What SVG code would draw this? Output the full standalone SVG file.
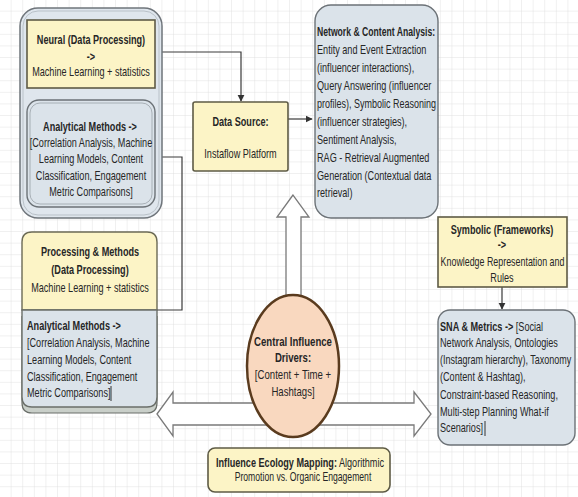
<svg xmlns="http://www.w3.org/2000/svg" width="578" height="497" viewBox="0 0 578 497">
<defs>
<pattern id="grid" width="11.6" height="11.6" patternUnits="userSpaceOnUse">
<path d="M11.6 0 V11.6 M0 11.6 H11.6" fill="none" stroke="#dcdcdc" stroke-width="0.8"/>
</pattern>
<marker id="ah" viewBox="0 0 10 10" refX="9" refY="5" markerWidth="6" markerHeight="6" orient="auto">
<path d="M0 0 L10 5 L0 10 z" fill="#333"/>
</marker>
<style>
.t{font-family:"Liberation Sans",Arial,sans-serif;font-size:12px;fill:#262626}
.b{font-weight:bold}
.c{text-anchor:middle}
.yel{fill:#fcf4c6;stroke:#5e5b45;stroke-width:1.6}
.blu{fill:#dbe3ea;stroke:#6c7277;stroke-width:1.4}
.ln{fill:none;stroke:#3a3a3a;stroke-width:1.2}
.blk{fill:#ffffff;stroke:#7a7a7a;stroke-width:1.3}
</style>
</defs>
<rect width="578" height="497" fill="#ffffff"/>
<rect width="578" height="497" fill="url(#grid)"/>

<g id="connectors">
<path class="ln" d="M155 52 H241 V101" marker-end="url(#ah)"/>
<path class="ln" d="M91 88 V99" marker-end="url(#ah)"/>
<path class="ln" d="M288 119 H312" marker-end="url(#ah)"/>
<path class="ln" d="M157 310 H182 V157 H156" marker-end="url(#ah)"/>
<path class="ln" d="M502 287 V309" marker-end="url(#ah)"/>
<polygon class="blk" points="293,195 277,217 286,217 286,305 301,305 301,217 309,217"/>
<polygon class="blk" points="157,414 173,392 173,403 414,403 414,392 431,414 414,436 414,425 173,425 173,436"/>
</g>

<g id="left-container">
<rect x="20" y="8" width="142" height="210" rx="18" fill="#dfe6ed" stroke="#6f757b" stroke-width="1.5"/>
<rect x="23" y="11" width="136" height="204" rx="15" fill="none" stroke="#b9c1c8" stroke-width="1"/>
</g>

<g id="neural">
<rect class="yel" x="27" y="20" width="128" height="68"/>
<text class="t b c" transform="translate(91 44) scale(.76 1)">Neural (Data Processing)</text>
<text class="t b c" transform="translate(91 61) scale(.76 1)">-&gt;</text>
<text class="t c" transform="translate(91 76) scale(.76 1)">Machine Learning + statistics</text>
</g>

<g id="analytical-top">
<rect class="blu" x="27" y="100" width="128" height="107" rx="12"/>
<rect x="30" y="103" width="122" height="101" rx="10" fill="none" stroke="#9aa2a8" stroke-width="0.8"/>
<text class="t b c" transform="translate(90 131) scale(.76 1)">Analytical Methods -&gt;</text>
<text class="t c" transform="translate(91 147) scale(.76 1)">[Correlation Analysis, Machine</text>
<text class="t c" transform="translate(91 163) scale(.76 1)">Learning Models, Content</text>
<text class="t c" transform="translate(91 180) scale(.76 1)">Classification, Engagement</text>
<text class="t c" transform="translate(91 196) scale(.76 1)">Metric Comparisons]</text>
</g>

<g id="data-source">
<rect class="yel" x="193" y="102" width="95" height="69" rx="2"/>
<text class="t b c" transform="translate(240.5 126) scale(.76 1)">Data Source:</text>
<text class="t c" transform="translate(240.5 158) scale(.76 1)">Instaflow Platform</text>
</g>

<g id="network">
<rect class="blu" x="315" y="5" width="123" height="213" rx="16"/>
<text class="t b" transform="translate(317 36) scale(.72 1)">Network &amp; Content Analysis:</text>
<text class="t" transform="translate(317 54) scale(.76 1)">Entity and Event Extraction</text>
<text class="t" transform="translate(317 72) scale(.76 1)">(influencer interactions),</text>
<text class="t" transform="translate(317 90) scale(.76 1)">Query Answering (influencer</text>
<text class="t" transform="translate(317 108) scale(.75 1)">profiles), Symbolic Reasoning</text>
<text class="t" transform="translate(317 126) scale(.76 1)">(influencer strategies),</text>
<text class="t" transform="translate(317 144) scale(.76 1)">Sentiment Analysis,</text>
<text class="t" transform="translate(317 162) scale(.76 1)">RAG - Retrieval Augmented</text>
<text class="t" transform="translate(317 180) scale(.76 1)">Generation (Contextual data</text>
<text class="t" transform="translate(317 197) scale(.76 1)">retrieval)</text>
</g>

<g id="processing">
<path d="M22 310 V242 Q22 232 32 232 H147 Q157 232 157 242 V310 Z" fill="#fcf4c6" stroke="#6b6a55" stroke-width="1.4"/>
<text class="t b c" transform="translate(90 256) scale(.76 1)">Processing &amp; Methods</text>
<text class="t b c" transform="translate(90 274) scale(.76 1)">(Data Processing)</text>
<text class="t c" transform="translate(90 292) scale(.76 1)">Machine Learning + statistics</text>
</g>

<g id="analytical-bottom">
<path d="M22 316 V403 Q22 413 32 413 H147 Q157 413 157 403 V316" fill="#c9cfc9" stroke="#6b6f6a" stroke-width="1.2"/>
<path d="M22 310 V397 Q22 407 32 407 H147 Q157 407 157 397 V310 Z" fill="#dbe3ea" stroke="#6b6f6a" stroke-width="1.4"/>
<text class="t b" transform="translate(27 330) scale(.76 1)">Analytical Methods -&gt;</text>
<text class="t" transform="translate(27 347) scale(.76 1)">[Correlation Analysis, Machine</text>
<text class="t" transform="translate(27 364) scale(.76 1)">Learning Models, Content</text>
<text class="t" transform="translate(27 381) scale(.76 1)">Classification, Engagement</text>
<text class="t" transform="translate(27 397) scale(.76 1)">Metric Comparisons]</text>
<line x1="111" y1="386" x2="111" y2="401" stroke="#333" stroke-width="1"/>
</g>

<g id="symbolic">
<rect class="yel" x="438" y="217" width="129" height="70"/>
<text class="t b c" transform="translate(502 234) scale(.76 1)">Symbolic (Frameworks)</text>
<text class="t b c" transform="translate(502 249) scale(.76 1)">-&gt;</text>
<text class="t c" transform="translate(502.5 266) scale(.74 1)">Knowledge Representation and</text>
<text class="t c" transform="translate(502 282) scale(.76 1)">Rules</text>
</g>

<g id="sna">
<rect class="blu" x="438" y="310" width="137" height="135" rx="12"/>
<text class="t" transform="translate(440 331) scale(.76 1)"><tspan class="b">SNA &amp; Metrics -&gt;</tspan> [Social</text>
<text class="t" transform="translate(440 347) scale(.76 1)">Network Analysis, Ontologies</text>
<text class="t" transform="translate(440 364) scale(.75 1)">(Instagram hierarchy), Taxonomy</text>
<text class="t" transform="translate(440 381) scale(.76 1)">(Content &amp; Hashtag),</text>
<text class="t" transform="translate(440 399) scale(.76 1)">Constraint-based Reasoning,</text>
<text class="t" transform="translate(440 416) scale(.76 1)">Multi-step Planning What-if</text>
<text class="t" transform="translate(440 432) scale(.76 1)">Scenarios]</text>
<line x1="485" y1="421" x2="485" y2="436" stroke="#333" stroke-width="1"/>
</g>

<g id="central">
<ellipse cx="293" cy="366" rx="46" ry="71" fill="#f9d8bf" stroke="#5a3b1e" stroke-width="2.5"/>
<text class="t b c" transform="translate(293 346) scale(.8 1)">Central Influence</text>
<text class="t b c" transform="translate(293 362) scale(.8 1)">Drivers:</text>
<text class="t c" transform="translate(293 379) scale(.8 1)">[Content + Time +</text>
<text class="t c" transform="translate(293 396) scale(.8 1)">Hashtags]</text>
</g>

<g id="influence-ecology">
<rect class="yel" x="208" y="448" width="182" height="44" rx="7" stroke-width="1.2"/>
<text class="t c" transform="translate(300 467) scale(.76 1)"><tspan class="b">Influence Ecology Mapping:</tspan> Algorithmic</text>
<text class="t c" transform="translate(303 481) scale(.72 1)">Promotion vs. Organic Engagement</text>
</g>
</svg>
